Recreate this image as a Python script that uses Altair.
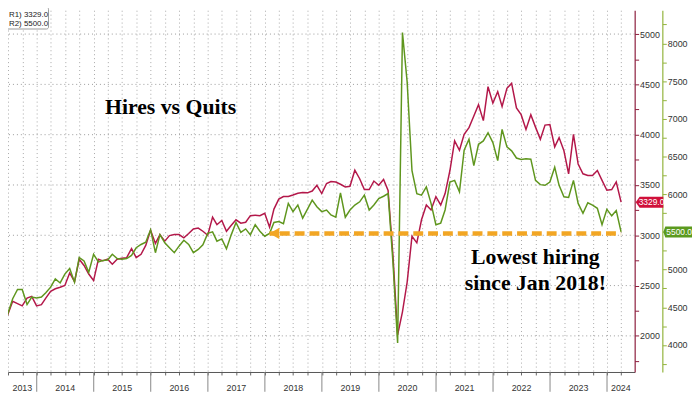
import altair as alt
import pandas as pd

# ---------------- data ----------------
months = pd.period_range("2013-04", "2024-03", freq="M").strftime("%Y-%m").tolist()

quits = [  # R1, thousands
    2278, 2256, 2213, 2344, 2321, 2298, 2376, 2393, 2298,
    2311, 2376, 2442, 2468, 2484, 2501, 2625, 2540, 2762, 2700, 2615, 2550,
    2762, 2746, 2762, 2713, 2762, 2772, 2778, 2867, 2778, 2811, 2899, 3049,
    2919, 3007, 2942, 2997, 3007, 3007, 2974, 3017, 3063, 3072, 3040, 3000,
    3180, 3105, 3147, 3040, 3100, 3154, 3121, 3130, 3195, 3200, 3195, 3219,
    3080, 3260, 3360, 3385, 3386, 3400, 3418, 3425, 3422, 3440, 3497, 3415,
    3515, 3535, 3530, 3507, 3481, 3487, 3647, 3562, 3455, 3455, 3539, 3497,
    3555, 3445, 2800, 2010, 2239, 2533, 2990, 2925, 3154, 3301, 3252, 3383,
    3301, 3415, 3644, 3938, 3845, 4003, 4070, 4185, 4297, 4140, 4477, 4314,
    4428, 4281, 4461, 4510, 4265, 4199, 4052, 4199, 4075, 3954, 4095, 4101,
    3879, 3971, 3840, 3611, 4003, 3709, 3611, 3595, 3595, 3644, 3546, 3448,
    3454, 3530, 3329,
]
hires = [  # R2, thousands
    4667, 4593, 4418, 4614, 4736, 4736, 4536, 4636, 4623,
    4636, 4693, 4767, 4876, 4823, 4941, 5015, 4832, 5159, 5115, 4963, 5203,
    5102, 5120, 5128, 5203, 5146, 5137, 5146, 5189, 5290, 5333, 5364, 5529,
    5224, 5464, 5355, 5290, 5224, 5311, 5390, 5333, 5224, 5268, 5330, 5480,
    5500, 5377, 5407, 5276, 5464, 5625, 5495, 5540, 5460, 5595, 5508, 5443,
    5480, 5625, 5638, 5608, 5878, 5769, 5856, 5682, 5800, 5921, 5834, 5769,
    5790, 5725, 5695, 6017, 5695, 5790, 5856, 5899, 5987, 5790, 5856, 5943,
    5973, 6008, 5100, 4026, 8143, 7490, 6313, 6008, 5987, 6096, 5878, 5595,
    5617, 5791, 6161, 6183, 6031, 6584, 6728, 6379, 6662, 6706, 6815, 6684,
    6445, 6859, 6628, 6575, 6480, 6460, 6470, 6465, 6183, 6127, 6118, 6161,
    6357, 6118, 5965, 5957, 6183, 5878, 5748, 5887, 5856, 5813, 5595, 5800,
    5713, 5783, 5500,
]
r1_ticks = list(range(1750, 5001, 250))
r2_ticks = list(range(3750, 8251, 250))
grid_levels = [2000, 2500, 3000, 3500, 4000, 4500, 5000]
years = list(range(2013, 2025))
arrow_month = "2018-01"

# ---------------- frames ----------------
df = pd.DataFrame({"month": months, "quits": quits, "hires": hires})
df["date"] = pd.to_datetime(df["month"]) + pd.offsets.MonthEnd(0)
last = df.tail(1).copy()

x_start = pd.Timestamp("2013-07-01")
x_end = pd.Timestamp("2024-06-26")

quarters = [pd.Timestamp(year=y, month=m, day=1) for y in range(2013, 2025) for m in (1, 4, 7, 10)]
quarters = [q for q in quarters if x_start <= q <= x_end]

sep_df = pd.DataFrame({"date": [pd.Timestamp(year=y, month=1, day=1) for y in years if y > 2013]})
lab_rows = []
for y in years:
    a = max(pd.Timestamp(year=y, month=1, day=1), x_start)
    b = min(pd.Timestamp(year=y + 1, month=1, day=1), x_end)
    lab_rows.append({"date": a + (b - a) / 2, "label": str(y)})
lab_df = pd.DataFrame(lab_rows)

arrow_start = df.loc[df["month"] == arrow_month].iloc[0]
arrow_df = pd.DataFrame({
    "date": [arrow_start["date"]],
    "date2": [df["date"].iloc[-1]],
    "level": [arrow_start["hires"]],
})

RED = "#b3184a"
RED_BOX = "#d0103a"
GREEN = "#5f961e"
GREEN_BOX = "#5b9a1e"
ORANGE = "#f2a624"

xscale = alt.Scale(domain=[alt.DateTime(year=2013, month=7, date=1),
                           alt.DateTime(year=2024, month=6, date=26)])
xaxis = alt.Axis(
    values=[alt.DateTime(year=q.year, month=q.month, date=1) for q in quarters],
    labels=False, ticks=True, tickSize=3, tickColor="#666",
    grid=True, gridColor="#a8a8a8", gridDash=[1, 3], gridWidth=1,
    domainColor="#555", title=None,
)
r1scale = alt.Scale(domain=[1641, 5237], nice=False, zero=False)
r2scale = alt.Scale(domain=[3642, 8440], nice=False, zero=False)

# labels every 500; a label hidden under the last-value box is left out
lbl1 = f"datum.value % 500 == 0 && abs(datum.value - {quits[-1]}) > 120 ? datum.label : ''"
lbl2 = f"datum.value % 500 == 0 && abs(datum.value - {hires[-1]}) > 160 ? datum.label : ''"
r1axis = alt.Axis(orient="right", values=r1_ticks, format="d", labelExpr=lbl1,
                  domainColor="#8c1c3c", tickColor="#8c1c3c", tickSize=4, domainWidth=1.2,
                  labelColor="#333", labelFont="Liberation Sans", labelFontSize=9,
                  labelPadding=1, labelOverlap=False, grid=False, title=None)
r2axis = alt.Axis(orient="right", offset=28, values=r2_ticks, format="d", labelExpr=lbl2,
                  domainColor="#93b43c", tickColor="#93b43c", tickSize=4, domainWidth=1.2,
                  labelColor="#333", labelFont="Liberation Sans", labelFontSize=9,
                  labelPadding=1, labelOverlap=False, grid=False, title=None)

X = alt.X("date:T", scale=xscale, axis=xaxis)


def Y1(field):
    return alt.Y(field, scale=r1scale, axis=r1axis)


def Y2(field):
    return alt.Y(field, scale=r2scale, axis=r2axis)


# ---------- R1 group (quits) ----------
hgrid = alt.Chart(pd.DataFrame({"level": grid_levels})).mark_rule(
    color="#9a9a9a", strokeDash=[1, 3], strokeWidth=1
).encode(y=Y1("level:Q"))

red_line = alt.Chart(df).mark_line(color=RED, strokeWidth=1.5, clip=True).encode(
    x=X, y=Y1("quits:Q"))
BOX1 = "M-1.33,0L-1,-0.46L1,-0.46L1,0.46L-1,0.46Z"
red_box = alt.Chart(last).mark_point(shape=BOX1, size=576, filled=True, color=RED_BOX,
                                     opacity=1, strokeWidth=0).encode(
    x=alt.value(651), y=Y1("quits:Q"))
red_txt = alt.Chart(last).mark_text(color="white", font="Liberation Sans", fontSize=8.5).encode(
    x=alt.value(651), y=Y1("quits:Q"), text=alt.Text("quits:Q", format=".1f"))

r1 = alt.layer(hgrid, red_line, red_box, red_txt)

# ---------- R2 group (hires) ----------
green_line = alt.Chart(df).mark_line(color=GREEN, strokeWidth=1.5, clip=True).encode(
    x=X, y=Y2("hires:Q"))
arrow_rule = alt.Chart(arrow_df).mark_rule(color=ORANGE, strokeWidth=4.5,
                                           strokeDash=[10, 5], strokeDashOffset=4.6).encode(
    x=X, x2="date2:T", y=Y2("level:Q"))
arrow_head = alt.Chart(arrow_df).mark_point(shape="triangle-left", size=130, filled=True,
                                            color=ORANGE, opacity=1, xOffset=4.9).encode(
    x=X, y=Y2("level:Q"))
BOX2 = "M-1.15,0L-1,-0.41L1,-0.41L1,0.41L-1,0.41Z"
green_box = alt.Chart(last).mark_point(shape=BOX2, size=729, filled=True, color=GREEN_BOX,
                                       opacity=1, strokeWidth=0).encode(
    x=alt.value(678.5), y=Y2("hires:Q"))
green_txt = alt.Chart(last).mark_text(color="white", font="Liberation Sans", fontSize=8.5).encode(
    x=alt.value(679), y=Y2("hires:Q"), text=alt.Text("hires:Q", format=".1f"))

r2 = alt.layer(green_line, arrow_rule, arrow_head, green_box, green_txt)

# ---------- x axis decorations ----------
seps = alt.Chart(sep_df).mark_rule(color="#888", strokeWidth=1).encode(
    x=X, y=alt.value(366), y2=alt.value(386))
ylabels = alt.Chart(lab_df).mark_text(font="Liberation Sans", fontSize=9, color="#333").encode(
    x=X, y=alt.value(382), text="label:N")


# ---------- annotations ----------
def label(txt, x, y, size=22, color="black", font="Liberation Serif", weight="bold",
          align="center"):
    return alt.Chart(pd.DataFrame({"t": [txt]})).mark_text(
        font=font, fontWeight=weight, fontSize=size, color=color,
        baseline="alphabetic", align=align,
    ).encode(x=alt.value(x), y=alt.value(y), text="t:N")


title = label("Hires vs Quits", 164.5, 105)
low1 = label("Lowest hiring", 533.5, 257)
low2 = label("since Jan 2018!", 533.5, 283)

legend_box = alt.Chart(pd.DataFrame({"a": [0]})).mark_rect(
    fill="white", stroke="#9a9a9a", strokeWidth=1, cornerRadius=2
).encode(x=alt.value(-4), x2=alt.value(41), y=alt.value(-3), y2=alt.value(19))
leg1 = label(f"R1) {quits[-1]:.1f}", 1, 7, size=8, color="#222",
             font="Liberation Sans", weight="normal", align="left")
leg2 = label(f"R2) {hires[-1]:.1f}", 1, 16, size=8, color="#222",
             font="Liberation Sans", weight="normal", align="left")

chart = alt.layer(
    r1, r2, seps, ylabels,
    title, low1, low2,
    legend_box, leg1, leg2,
).resolve_scale(y="independent").properties(
    width=634, height=366,
    autosize=alt.AutoSizeParams(type="none"),
    padding={"left": 0, "top": 0, "right": 58, "bottom": 20},
    background="white",
).configure_view(stroke=None)

chart.save("out.html", embed_options={"renderer": "svg", "actions": False})
